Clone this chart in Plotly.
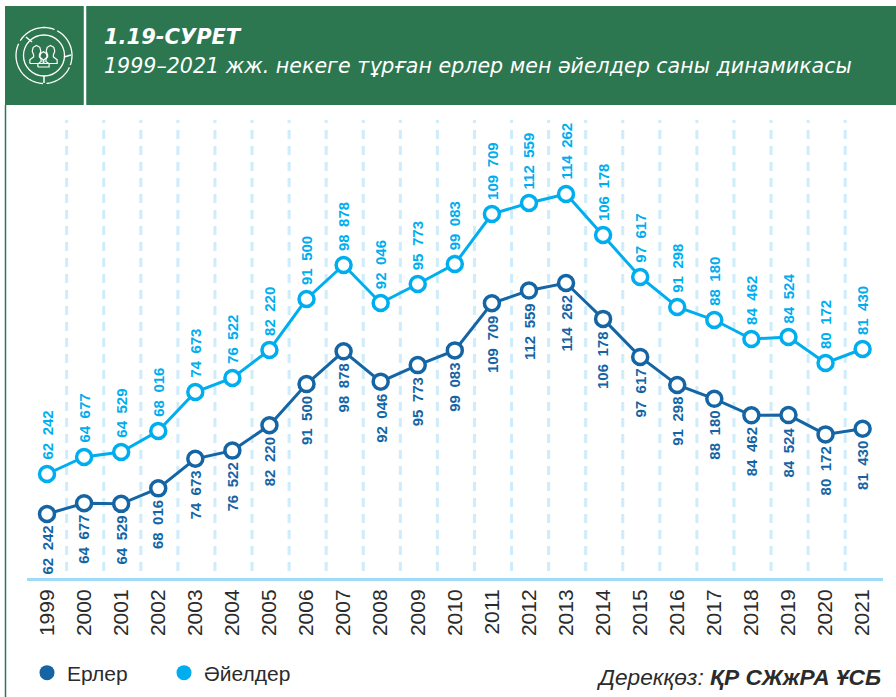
import math
import plotly.graph_objects as go

W, H = 896, 697
years = list(range(1999, 2022))
men = [62242, 64677, 64529, 68016, 74673, 76522, 82220, 91500, 98878, 92046, 95773, 99083,
       109709, 112559, 114262, 106178, 97617, 91298, 88180, 84462, 84524, 80172, 81430]
# Heights at which the women's line is drawn
women_drawn = [71250, 75080, 76200, 80930, 89720, 92870, 99180, 110660, 118320, 109760, 114040, 118540,
               129800, 132280, 134300, 125070, 115610, 108860, 105930, 101650, 102100, 96250, 99400]
# Printed labels of the women's line (the picture repeats the men's numbers)
women_labels = men

MEN_C, WOMEN_C = "#1565A5", "#00AEEF"
GREEN, AXIS_C, GRID_C, TEXT_C = "#2C7650", "#9FDBF8", "#CFECFA", "#2B2B2B"
FONT = "Liberation Sans"
HEAD = "DejaVu Sans"
Y_RANGE = [47829, 154350]


def fx(p):
    return p / W


def fy(p):
    return 1 - p / H


def fmt(v):
    return f"{v:,}".replace(",", "\u2002")


def circle(cx, cy, r, color="white", width=1.5, fill=None):
    return dict(type="circle", xref="paper", yref="paper", x0=fx(cx - r), x1=fx(cx + r), y0=fy(cy + r), y1=fy(cy - r),
                line=dict(color=color, width=width), fillcolor=fill or "rgba(0,0,0,0)", layer="above")


def seg(x0, y0, x1, y1, color="white", width=1.5):
    return dict(type="line", xref="paper", yref="paper", x0=fx(x0), x1=fx(x1), y0=fy(y0), y1=fy(y1),
                line=dict(color=color, width=width), layer="above")


def arc(cx, cy, r, a0, a1):
    pts = [(cx + r * math.cos(math.radians(a0 + (a1 - a0) * i / 24)),
            cy + r * math.sin(math.radians(a0 + (a1 - a0) * i / 24))) for i in range(25)]
    d = "M " + " L ".join(f"{fx(x):.5f},{fy(y):.5f}" for x, y in pts)
    return dict(type="path", xref="paper", yref="paper", path=d, line=dict(color="white", width=1.3), layer="above")


def person(cx, cy, s):
    pts = [(-7, 10), (-7, 6), (-3, 3), (-3, 1), (-4.5, -3), (-3.5, -7), (0, -9), (3.5, -7), (4.5, -3), (3, 1), (3, 3),
           (7, 6), (7, 10), (-7, 10)]
    d = "M " + " L ".join(f"{fx(cx + x * s):.5f},{fy(cy + y * s):.5f}" for x, y in pts)
    return dict(type="path", xref="paper", yref="paper", path=d, line=dict(color="white", width=1.2), layer="above")


shapes = [
    dict(type="rect", xref="paper", yref="paper", x0=fx(5), x1=1, y0=fy(105), y1=fy(6), fillcolor=GREEN,
         line=dict(width=0), layer="below"),
    seg(5.5, 105, 5.5, 697, GREEN, 1.5),
    seg(85, 6, 85, 105, "white", 2.5),
    arc(44, 55.5, 28, -62, 20), arc(44, 55.5, 28, 25, 85), arc(44, 55.5, 28, 92, 205), arc(44, 55.5, 28, 212, 292),
    circle(44, 55.5, 20.5, width=1.3),
    seg(44, 76, 44, 83), seg(64, 57, 71, 55), seg(26, 37, 32, 42),
    person(36.5, 54, 0.95), person(50.5, 54, 0.95), person(43.5, 59, 0.8),
]
for y in years[:-1]:
    shapes.append(dict(type="line", xref="x", yref="y", x0=y + 0.53, x1=y + 0.53, y0=Y_RANGE[0] - 9 * 225.2,
                       y1=Y_RANGE[1] - 15 * 225.2, line=dict(color=GRID_C, width=3, dash="9px,7px"), layer="below"))

fig = go.Figure()
line_w = 3
fig.add_trace(go.Scatter(x=years, y=women_drawn, mode="lines+markers", showlegend=False, cliponaxis=False,
                         line=dict(color=WOMEN_C, width=line_w),
                         marker=dict(size=15, color="white", line=dict(color=WOMEN_C, width=3.5))))
fig.add_trace(go.Scatter(x=years, y=men, mode="lines+markers", showlegend=False, cliponaxis=False,
                         line=dict(color=MEN_C, width=line_w),
                         marker=dict(size=15, color="white", line=dict(color=MEN_C, width=3.5))))
fig.add_trace(go.Scatter(x=[None], y=[None], mode="markers", name="Ерлер", marker=dict(size=15, color=MEN_C)))
fig.add_trace(go.Scatter(x=[None], y=[None], mode="markers", name="Әйелдер", marker=dict(size=15, color=WOMEN_C)))

anns = []
for yr, m, wd, wl in zip(years, men, women_drawn, women_labels):
    anns.append(dict(x=yr, y=m, xref="x", yref="y", text=f"<b>{fmt(m)}</b>", textangle=-90, showarrow=False,
                     yanchor="top", yshift=-10, font=dict(family=FONT, size=15, color=MEN_C)))
    anns.append(dict(x=yr, y=wd, xref="x", yref="y", text=f"<b>{fmt(wl)}</b>", textangle=-90, showarrow=False,
                     yanchor="bottom", yshift=12, font=dict(family=FONT, size=15, color=WOMEN_C)))
anns += [
    dict(x=fx(102), y=fy(36.5), xref="paper", yref="paper", xanchor="left", yanchor="middle", showarrow=False,
         text="<b><i>1.19-СУРЕТ</i></b>", font=dict(family=HEAD, size=21, color="white")),
    dict(x=fx(102), y=fy(66), xref="paper", yref="paper", xanchor="left", yanchor="middle", showarrow=False,
         text="<i>1999–2021 жж. некеге тұрған ерлер мен әйелдер саны динамикасы</i>",
         font=dict(family=HEAD, size=20.6, color="white")),
    dict(x=fx(883), y=fy(677), xref="paper", yref="paper", xanchor="right", yanchor="middle", showarrow=False,
         text="<i>Дерекқөз: <b>ҚР СЖжРА ҰСБ</b></i>", font=dict(family=FONT, size=22.7, color=TEXT_C)),
]

fig.update_layout(
    width=W, height=H, autosize=False, margin=dict(l=0, r=0, t=0, b=0),
    paper_bgcolor="white", plot_bgcolor="rgba(0,0,0,0)", shapes=shapes, annotations=anns,
    font=dict(family=FONT, color=TEXT_C),
    legend=dict(orientation="h", x=fx(27), y=fy(673), xanchor="left", yanchor="middle", entrywidth=92,
                entrywidthmode="pixels", bgcolor="rgba(0,0,0,0)", font=dict(family=FONT, size=21, color=TEXT_C)),
    xaxis=dict(domain=[fx(27), fx(883)], range=[1998.46, 2021.55], tickmode="array", tickvals=years,
               ticktext=[str(y) for y in years], tickangle=-90, showgrid=False, zeroline=False, showline=True,
               linecolor=AXIS_C, linewidth=3, ticks="", tickfont=dict(family=FONT, size=21, color=TEXT_C)),
    yaxis=dict(domain=[fy(578), fy(105)], range=Y_RANGE, visible=False),
)
fig.write_html("out.html", config=dict(displayModeBar=False), post_script="document.body.style.margin='0';")
